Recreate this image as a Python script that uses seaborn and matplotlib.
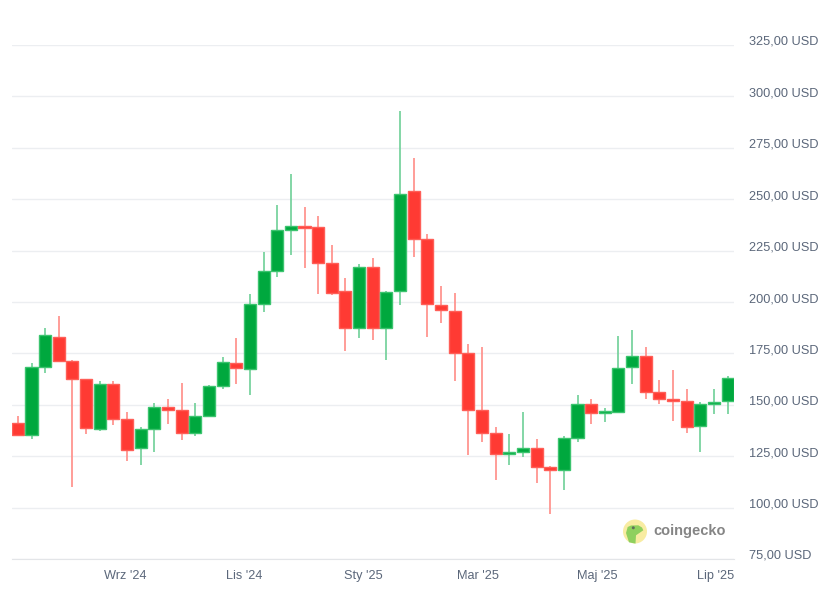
import matplotlib
matplotlib.use("Agg")
import matplotlib.pyplot as plt
import matplotlib.dates as mdates
import matplotlib.transforms as mtransforms
from matplotlib.patches import Ellipse, Polygon
import pandas as pd
import seaborn as sns

# weekly OHLC (USD)
open_ = [141.1, 135.3, 168.4, 183.0, 171.3, 162.5, 138.2, 160.1, 143.0, 128.9,
         138.2, 148.9, 147.4, 136.2, 144.5, 159.1, 170.3, 167.4, 199.1, 215.1,
         235.1, 237.0, 236.6, 219.0, 205.4, 187.4, 217.1, 187.4, 205.4, 253.8,
         230.7, 198.6, 195.7, 175.2, 147.4, 136.2, 126.0, 127.0, 128.9, 119.7,
         118.2, 133.8, 150.4, 146.0, 146.5, 168.4, 173.9, 156.2, 152.9, 151.8,
         139.6, 150.4, 151.8]
high = [144.7, 170.4, 187.5, 193.4, 171.8, 162.5, 161.7, 161.7, 146.6, 139.3,
        151.0, 152.9, 160.7, 151.0, 159.5, 173.4, 182.6, 204.1, 224.5, 247.4,
        262.5, 246.0, 242.0, 227.5, 211.5, 218.7, 221.6, 205.4, 292.7, 269.8,
        233.2, 208.0, 204.6, 179.7, 177.9, 139.3, 135.9, 146.5, 133.5, 120.3,
        134.9, 155.0, 152.9, 148.4, 183.6, 186.5, 178.3, 162.2, 167.1, 157.8,
        151.5, 157.8, 164.1]
low = [135.3, 133.6, 165.7, 171.3, 110.2, 136.0, 137.5, 140.3, 122.7, 120.9,
       126.8, 140.9, 133.1, 135.0, 144.3, 157.5, 159.9, 155.0, 195.3, 212.4,
       223.1, 216.7, 203.7, 203.5, 176.0, 182.3, 181.7, 171.9, 198.4, 221.8,
       182.8, 189.6, 161.4, 125.8, 132.1, 113.6, 120.9, 124.8, 112.2, 96.9,
       108.5, 132.1, 140.9, 141.4, 146.0, 159.9, 152.6, 150.6, 141.9, 136.5,
       126.8, 145.3, 145.3]
close = [135.3, 168.4, 184.0, 171.3, 162.5, 138.8, 160.1, 143.0, 128.2, 138.2,
         148.9, 147.4, 136.2, 144.5, 159.1, 170.8, 167.9, 199.1, 215.1, 235.1,
         237.0, 235.9, 219.0, 204.4, 187.4, 217.1, 187.4, 204.9, 252.6, 230.7,
         199.1, 196.1, 175.2, 147.4, 136.2, 126.0, 127.0, 128.9, 119.7, 118.2,
         133.8, 150.4, 146.0, 146.9, 167.9, 173.9, 156.2, 152.8, 151.8, 139.1,
         150.4, 151.3, 163.0]
first_week = "2024-07-08"

tick_dates = ["2024-09-01", "2024-11-01", "2025-01-01", "2025-03-01", "2025-05-01", "2025-07-01"]
tick_labels = ["Wrz '24", "Lis '24", "Sty '25", "Mar '25", "Maj '25", "Lip '25"]
price_ticks = [75, 100, 125, 150, 175, 200, 225, 250, 275, 300, 325]

df = pd.DataFrame({
    "date": pd.date_range(first_week, periods=len(close), freq="7D"),
    "open": open_, "high": high, "low": low, "close": close,
})
df["up"] = df["close"] >= df["open"]
df["x"] = mdates.date2num(df["date"])
df["bottom"] = df[["open", "close"]].min(axis=1)
df["height"] = (df["close"] - df["open"]).abs().clip(lower=0.8)

sns.set_style("white")
plt.rcParams["font.family"] = ["Liberation Sans", "DejaVu Sans"]

W, H = 833, 594
fig = plt.figure(figsize=(W / 100, H / 100), dpi=100)
ax = fig.add_axes([12 / W, 1 - 559 / H, 721.5 / W, 514 / H])

green, red = "#00a83e", "#ff3a33"
green_edge, red_edge = "#3cc46f", "#ff5f58"
green_wick, red_wick = "#79d39f", "#ff9590"
text_col = "#5b677a"

ax.vlines(df["x"], df["low"], df["high"],
          colors=[green_wick if u else red_wick for u in df["up"]], lw=1.3, zorder=2)
ax.bar(df["x"], df["height"], bottom=df["bottom"], width=6.2,
       color=[green if u else red for u in df["up"]],
       edgecolor=[green_edge if u else red_edge for u in df["up"]],
       linewidth=1.0, zorder=3)

ax.set_ylim(75, 325)
ax.set_xlim(mdates.datestr2num("2024-07-05"), mdates.datestr2num("2025-07-10"))

ax.yaxis.tick_right()
ax.set_yticks(price_ticks, [f"{v:.2f}".replace(".", ",") + " USD" for v in price_ticks])
ax.tick_params(axis="y", length=0, pad=11, labelsize=9.2, labelcolor=text_col)
ax.grid(axis="y", color="#eceef1", lw=1)
ax.grid(axis="x", visible=False)
ax.set_axisbelow(True)

ax.set_xticks(mdates.datestr2num(tick_dates), tick_labels)
ax.tick_params(axis="x", length=6.5, width=1, color="#e3e5e8", pad=1.5,
               labelsize=9.2, labelcolor=text_col)

sns.despine(ax=ax, left=True, right=True, top=True)
ax.spines["bottom"].set_color("#e3e5e8")

shift = mtransforms.ScaledTranslation(0, 0.045, fig.dpi_scale_trans)
for lbl in ax.get_yticklabels():
    lbl.set_transform(lbl.get_transform() + shift)

# coingecko watermark
def px(x, y):
    return (x / W, 1 - y / H)

fig.patches.append(Ellipse(px(635, 531.5), 24 / W, 24 / H, transform=fig.transFigure,
                           facecolor="#f8eca2", edgecolor="none", zorder=5))
head = [(627.7, 527), (631, 525.5), (638.3, 525.3), (642, 527.5), (643.3, 530.3),
        (636, 535.3), (635.5, 543.6), (629, 542.3), (626, 533)]
fig.patches.append(Polygon([px(x, y) for x, y in head], closed=True,
                           transform=fig.transFigure, facecolor="#8fd05e",
                           edgecolor="none", zorder=6))
fig.patches.append(Ellipse(px(633.3, 527.8), 3 / W, 3 / H, transform=fig.transFigure,
                           facecolor="#5f6f5a", edgecolor="none", zorder=7))
fig.text(653 / W, 1 - 531 / H, "coingecko", fontsize=10.5, fontweight="bold",
         color="#858585", va="center", ha="left")

fig.savefig("out.png", dpi=100, facecolor="white")
